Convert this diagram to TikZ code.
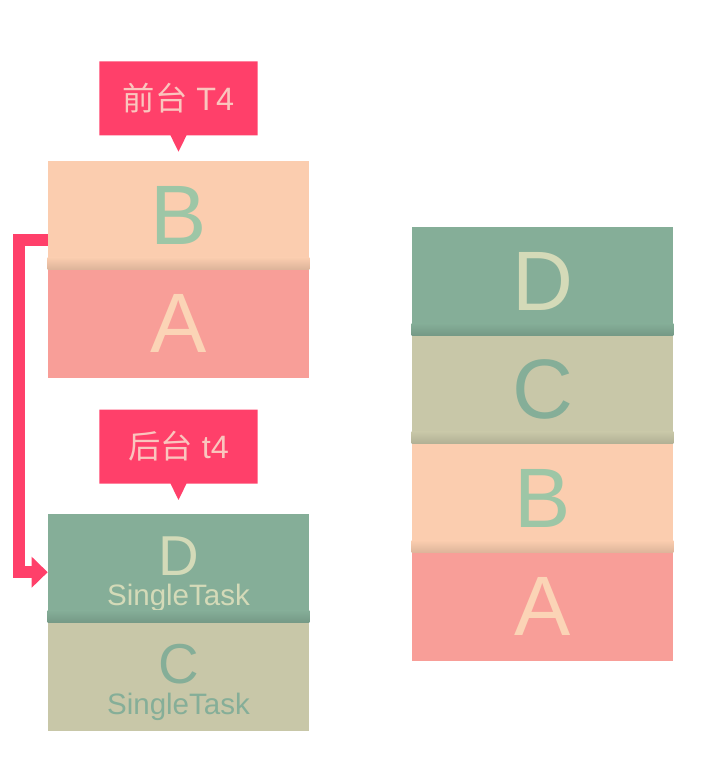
\documentclass[tikz,border=0pt]{standalone}
\usepackage{fontspec}
\setmainfont{Liberation Sans}
\newfontfamily\cjk{Noto Sans CJK SC}
\usepackage{xcolor}
\usetikzlibrary{positioning}
\usetikzlibrary{shapes.callouts, arrows.meta, calc}
\definecolor{peach}{HTML}{FBCDAF}
\definecolor{mint}{HTML}{9DC6A6}
\definecolor{salmon}{HTML}{F89E98}
\definecolor{cream}{HTML}{FBD4B6}
\definecolor{sage}{HTML}{85AE98}
\definecolor{pale}{HTML}{D4DAB8}
\definecolor{khaki}{HTML}{C8C7A8}
\definecolor{tagred}{HTML}{FF406A}
\definecolor{tagtext}{HTML}{FAC6BE}
\tikzstyle{card} = [rectangle, minimum width=6.525cm, minimum height=2.7cm, inner sep=0pt, text centered, align=center]
\tikzstyle{big} = [font=\fontsize{60}{60}\selectfont]
\tikzstyle{task} = [font=\fontsize{21}{22}\selectfont, text height=58pt]
\tikzstyle{tag} = [rectangle callout, fill=tagred, text=tagtext, minimum width=3.95cm, minimum height=1.85cm, inner sep=0pt, callout pointer width=0.4cm, font=\fontsize{23}{23}\selectfont]
\tikzstyle{flow} = [line width=8.5pt, draw=tagred, -{Triangle[width=0.75cm, length=0.4cm]}]

\begin{document}
\begin{tikzpicture}[x=0.025cm, y=-0.025cm]
    \useasboundingbox (0,0) rectangle (700,778);
    % foreground stack
    \node(fB)[card, big, fill=peach, text=mint] at (178.5,215) {B};
    \node(fA)[card, big, fill=salmon, text=cream, below=0pt of fB] {A};
    \node(fTag)[tag, above=0.625cm of fB, callout absolute pointer={($(fB.north)+(0,-9)$)}] {{\cjk 前台} T4};
    % background stack
    \node(bD)[card, task, fill=sage, text=pale, below=3.4cm of fA] {{\fontsize{40}{40}\selectfont D}\\SingleTask};
    \node(bC)[card, task, fill=khaki, text=sage, below=0pt of bD] {{\fontsize{40}{40}\selectfont C}\\SingleTask};
    \node(bTag)[tag, above=0.75cm of bD, callout absolute pointer={($(bD.north)+(0,-14)$)}] {{\cjk 后台} t4};
    % full stack
    \node(sD)[card, big, fill=sage, text=pale] at (542.5,281) {D};
    \node(sC)[card, big, fill=khaki, text=sage, below=0pt of sD] {C};
    \node(sB)[card, big, fill=peach, text=mint, below=0pt of sC] {B};
    \node(sA)[card, big, fill=salmon, text=cream, below=0pt of sB] {A};
    % shadows between cards
    \shade[top color=peach, bottom color=peach!88!black] ($(fB.south west)+(0,-12)$) rectangle (fB.south east);
    \shade[top color=sage, bottom color=sage!88!black] ($(bD.south west)+(0,-12)$) rectangle (bD.south east);
    \shade[top color=sage, bottom color=sage!88!black] ($(sD.south west)+(0,-12)$) rectangle (sD.south east);
    \shade[top color=khaki, bottom color=khaki!88!black] ($(sC.south west)+(0,-12)$) rectangle (sC.south east);
    \shade[top color=peach, bottom color=peach!88!black] ($(sB.south west)+(0,-12)$) rectangle (sB.south east);
    \draw[flow] ($(fB.west)+(0,25)$) -- ++(-29,0) |- ($(bD.west)+(0,4)$);
\end{tikzpicture}
\end{document}
